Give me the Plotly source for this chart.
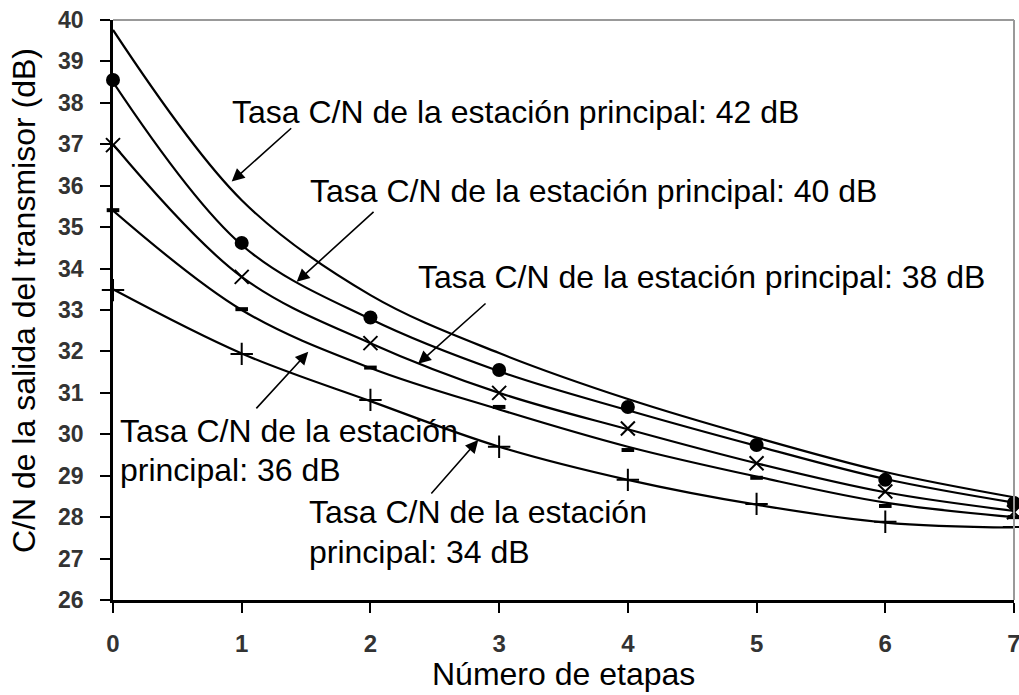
import plotly.graph_objects as go

# ---- data ----
etapas = [0, 1, 2, 3, 4, 5, 6, 7]

# smooth (calculated) curves, one per main-station C/N
curva_42 = [39.76, 35.65, 33.36, 31.96, 30.85, 29.92, 29.09, 28.48]
curva_40 = [38.50, 34.57, 32.78, 31.52, 30.58, 29.72, 28.92, 28.35]
curva_38 = [37.00, 33.80, 32.20, 31.00, 30.12, 29.30, 28.60, 28.15]
curva_36 = [35.40, 33.00, 31.60, 30.60, 29.70, 28.98, 28.35, 28.00]
curva_34 = [33.50, 31.95, 30.80, 29.70, 28.90, 28.30, 27.87, 27.75]

# measured points
puntos_circulo = [38.55, 34.62, 32.82, 31.55, 30.66, 29.74, 28.90, 28.34]
puntos_x = [36.98, 33.80, 32.20, 31.00, 30.14, 29.30, 28.62, 28.12]
puntos_guion = [35.41, 33.02, 31.61, 30.66, 29.62, 28.95, 28.27, 28.00]
puntos_cruz = [33.48, 31.94, 30.83, 29.70, 28.90, 28.32, 27.89, 27.76]

y_ticks = list(range(26, 41))
x_ticks = list(range(0, 8))

FONT = "Liberation Sans, Arial, sans-serif"

fig = go.Figure()

for c in [curva_42, curva_40, curva_38, curva_36, curva_34]:
    fig.add_trace(go.Scatter(
        x=etapas, y=c, mode="lines",
        line=dict(color="black", width=2.2, shape="spline", smoothing=1.0),
        showlegend=False, hoverinfo="skip", cliponaxis=False))

fig.add_trace(go.Scatter(x=etapas, y=puntos_circulo, mode="markers",
                         marker=dict(symbol="circle", size=14, color="black"),
                         showlegend=False, cliponaxis=False))
fig.add_trace(go.Scatter(x=etapas, y=puntos_x, mode="markers",
                         marker=dict(symbol="x-thin", size=14,
                                     line=dict(color="black", width=2)),
                         showlegend=False, cliponaxis=False))
fig.add_trace(go.Scatter(x=etapas, y=puntos_guion, mode="markers",
                         marker=dict(symbol="line-ew", size=9,
                                     line=dict(color="black", width=4)),
                         showlegend=False, cliponaxis=False))
fig.add_trace(go.Scatter(x=etapas, y=puntos_cruz, mode="markers",
                         marker=dict(symbol="cross-thin", size=16,
                                     line=dict(color="black", width=2)),
                         showlegend=False, cliponaxis=False))

textos = [
    ("Tasa C/N de la estación principal: 42 dB", 0.909, 37.77),
    ("Tasa C/N de la estación principal: 40 dB", 1.515, 35.87),
    ("Tasa C/N de la estación principal: 38 dB", 2.352, 33.785),
    ("Tasa C/N de la estación", 0.039, 30.08),
    ("principal: 36 dB", 0.039, 29.14),
    ("Tasa C/N de la estación", 1.505, 28.12),
    ("principal: 34 dB", 1.505, 27.17),
]
for t, x, y in textos:
    fig.add_annotation(x=x, y=y, xref="x", yref="y", text=t, showarrow=False,
                       xanchor="left", yanchor="middle",
                       font=dict(family=FONT, size=32, color="black"))

flechas = [
    # (tail_x, tail_y, tip_x, tip_y)
    (1.396, 37.42, 0.922, 36.10),
    (2.036, 35.40, 1.427, 33.68),
    (2.906, 33.19, 2.370, 31.70),
    (1.103, 30.59, 1.517, 31.99),
    (2.463, 28.535, 2.838, 29.86),
]
for ax, ay, x, y in flechas:
    fig.add_annotation(x=x, y=y, ax=ax, ay=ay, xref="x", yref="y",
                       axref="x", ayref="y", text="", showarrow=True,
                       arrowhead=2, arrowsize=1.6, arrowwidth=1.6,
                       arrowcolor="black")

# axis titles
fig.add_annotation(x=0.5, y=-0.127, xref="paper", yref="paper",
                   text="Número de etapas", showarrow=False,
                   xanchor="center", yanchor="middle",
                   font=dict(family=FONT, size=32, color="black"))
fig.add_annotation(x=-0.0988, y=0.517, xref="paper", yref="paper",
                   text="C/N de la salida del transmisor (dB)", showarrow=False,
                   textangle=-90, xanchor="center", yanchor="middle",
                   font=dict(family=FONT, size=32, color="black"))

# gray top/right border
fig.add_shape(type="line", xref="paper", yref="paper", x0=0, x1=1, y0=1, y1=1,
              line=dict(color="#999999", width=2))
fig.add_shape(type="line", xref="paper", yref="paper", x0=1, x1=1, y0=0, y1=1,
              line=dict(color="#999999", width=2))

fig.update_xaxes(range=[0, 7], tickvals=x_ticks, ticks="outside", ticklen=10,
                 tickwidth=2, tickcolor="black", showline=True, linecolor="black",
                 linewidth=2.5, showgrid=False, zeroline=False,
                 automargin=False,
                 ticklabelstandoff=10, ticklabeloverflow="allow",
                 tickfont=dict(family=FONT, size=24, color="#333333",
                               weight="bold"))
fig.update_yaxes(range=[26, 40], tickvals=y_ticks, ticks="outside", ticklen=10,
                 tickwidth=2, tickcolor="black", showline=True, linecolor="black",
                 linewidth=2.5, showgrid=False, zeroline=False,
                 automargin=False,
                 ticklabelstandoff=12,
                 tickfont=dict(family=FONT, size=23, color="#333333",
                               weight="bold"))

fig.update_layout(width=1019, height=695,
                  margin=dict(l=113, r=5, t=20, b=95, autoexpand=False),
                  plot_bgcolor="white", paper_bgcolor="white",
                  showlegend=False)

fig.write_html("out.html")
